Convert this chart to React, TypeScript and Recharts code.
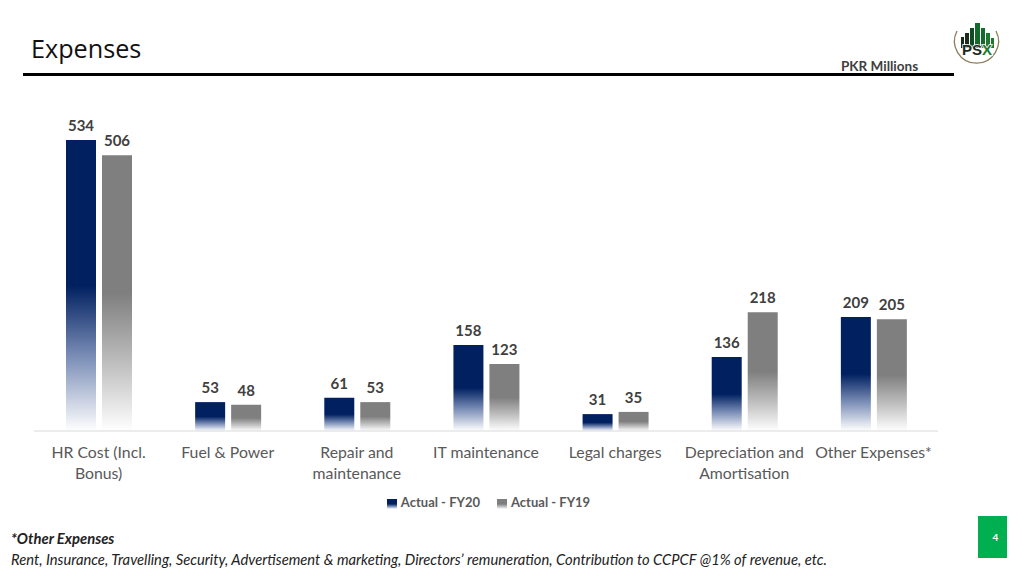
import React from 'react';
import { BarChart, Bar, XAxis, YAxis, LabelList, Legend, Text } from 'recharts';

const categories = [
    'HR Cost (Incl. Bonus)',
    'Fuel & Power',
    'Repair and maintenance',
    'IT maintenance',
    'Legal charges',
    'Depreciation and Amortisation',
    'Other Expenses*',
];
const actualFY20 = [534, 53, 61, 158, 31, 136, 209];
const actualFY19 = [506, 48, 53, 123, 35, 218, 205];

const chartData = categories.map((name, i) => ({
    name,
    fy20: actualFY20[i],
    fy19: actualFY19[i],
}));

const FONT = 'Lato, "Open Sans", sans-serif';
const TEXT_GREY = '#595959';

// logo building blocks, x / top / width
const logoBars = [
    [961, 37, 3, '#1a2a1c'],
    [965, 33, 4, '#1a2a1c'],
    [970, 28, 4, '#0f4a20'],
    [975, 23, 5, '#126b2a'],
    [981, 28, 4, '#126b2a'],
    [986, 33, 4, '#1c7a2e'],
    [991, 38, 3, '#1c7a2e'],
] as const;

function CategoryTick({ x, y, payload }: any) {
    return (
        <Text
            x={x}
            y={y}
            width={128}
            lineHeight={21}
            textAnchor="middle"
            verticalAnchor="start"
            fontFamily={FONT}
            fontSize={15.8}
            fill={TEXT_GREY}
        >
            {payload.value}
        </Text>
    );
}

function Logo() {
    return (
        <svg width={60} height={60} viewBox="950 15 60 60" style={{ position: 'absolute', left: 950, top: 15 }}>
            <path d="M 957 31 A 22 22 0 1 0 996 31" fill="none" stroke="#8c7d5a" strokeWidth={1.3} />
            {logoBars.map(([x, top, w, color]) => (
                <rect key={x} x={x} y={top} width={w} height={48 - top} fill={color} />
            ))}
            <text x={977} y={55} textAnchor="middle" fontFamily='"Liberation Sans", sans-serif' fontWeight={700} fontSize={15} stroke="#fff" strokeWidth={1.5} paintOrder="stroke">
                <tspan fill="#1a2a1c">PS</tspan>
                <tspan fill="#1c7a2e">X</tspan>
            </text>
        </svg>
    );
}

export default function App() {
    return (
        <div style={{ position: 'absolute', left: 0, top: 0, width: 1024, height: 576, background: '#fff', overflow: 'hidden' }}>
            <div style={{ position: 'absolute', left: 31, top: 30, fontFamily: '"Open Sans", sans-serif', fontSize: 25.2, lineHeight: '37px', color: '#111' }}>
                Expenses
            </div>
            <div style={{ position: 'absolute', left: 841, top: 58, fontFamily: FONT, fontWeight: 700, fontSize: 13.5, lineHeight: '17px', color: '#404040' }}>
                PKR Millions
            </div>
            <div style={{ position: 'absolute', left: 23, top: 73, width: 931, height: 2.5, background: '#000' }} />
            <Logo />

            <div style={{ position: 'absolute', left: 0, top: 0 }}>
                <BarChart
                    width={1024}
                    height={537}
                    data={chartData}
                    barSize={30}
                    barGap={6}
                    margin={{ top: 104, right: 86, bottom: 0, left: 34 }}
                >
                    <defs>
                        <linearGradient id="fadeNavy" x1="0" y1="0" x2="0" y2="1">
                            <stop offset="0%" stopColor="#002060" />
                            <stop offset="50%" stopColor="#002060" />
                            <stop offset="75%" stopColor="#7d90b8" />
                            <stop offset="100%" stopColor="#ffffff" />
                        </linearGradient>
                        <linearGradient id="fadeGrey" x1="0" y1="0" x2="0" y2="1">
                            <stop offset="0%" stopColor="#7f7f7f" />
                            <stop offset="50%" stopColor="#7f7f7f" />
                            <stop offset="75%" stopColor="#bdbdbd" />
                            <stop offset="100%" stopColor="#ffffff" />
                        </linearGradient>
                    </defs>
                    <XAxis
                        dataKey="name"
                        interval={0}
                        tick={CategoryTick}
                        tickLine={false}
                        axisLine={{ stroke: '#d9d9d9', strokeWidth: 1 }}
                        tickMargin={10}
                        height={90}
                    />
                    <YAxis hide domain={[0, 600]} />
                    <Legend
                        iconType="square"
                        iconSize={10}
                        itemSorter={null}
                        wrapperStyle={{ top: 494, left: 347, width: 300, fontFamily: FONT, fontWeight: 700, fontSize: 13 }}
                        formatter={(value) => <span style={{ color: TEXT_GREY, paddingRight: 7 }}>{value}</span>}
                    />
                    <Bar dataKey="fy20" name="Actual - FY20" fill="url(#fadeNavy)" isAnimationActive={false}>
                        <LabelList dataKey="fy20" position="top" offset={9} fontFamily={FONT} fontWeight={700} fontSize={15} fill="#404040" />
                    </Bar>
                    <Bar dataKey="fy19" name="Actual - FY19" fill="url(#fadeGrey)" isAnimationActive={false}>
                        <LabelList dataKey="fy19" position="top" offset={9} fontFamily={FONT} fontWeight={700} fontSize={15} fill="#404040" />
                    </Bar>
                </BarChart>
            </div>

            <div style={{ position: 'absolute', left: 11, top: 530, fontFamily: FONT, fontWeight: 700, fontStyle: 'italic', fontSize: 14.8, lineHeight: '17px', color: '#222' }}>
                *Other Expenses
            </div>
            <div style={{ position: 'absolute', left: 11, top: 551, fontFamily: FONT, fontStyle: 'italic', fontSize: 14.75, lineHeight: '17px', color: '#222', whiteSpace: 'nowrap' }}>
                Rent, Insurance, Travelling, Security, Advertisement &amp; marketing, Directors’ remuneration, Contribution to CCPCF @1% of revenue, etc.
            </div>
            <div style={{ position: 'absolute', left: 978, top: 516, width: 29, height: 42, background: '#00b050', color: '#fff', fontFamily: FONT, fontWeight: 700, fontSize: 10, lineHeight: '42px', textAlign: 'center', paddingLeft: 6, boxSizing: 'border-box' }}>
                4
            </div>
        </div>
    );
}
